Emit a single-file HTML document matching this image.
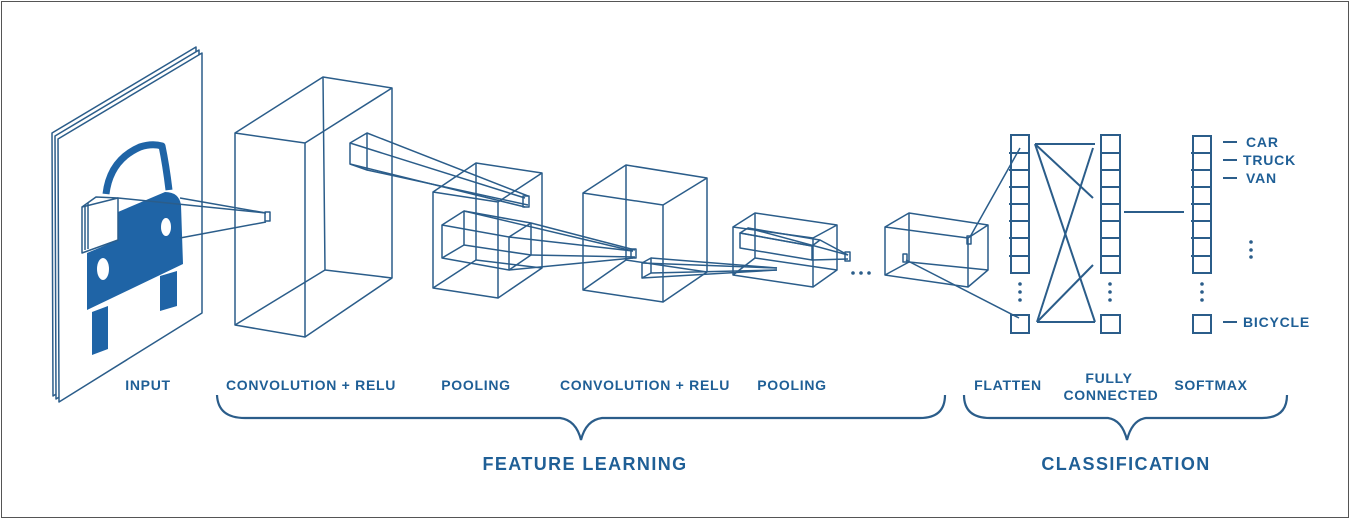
<!DOCTYPE html>
<html><head><meta charset="utf-8"><style>
html,body{margin:0;padding:0;background:#fff}
svg{display:block}
text{font-family:"Liberation Sans",sans-serif;font-weight:bold;fill:#1f5f96}
</style></head><body>
<svg width="1351" height="520" viewBox="0 0 1351 520" xmlns="http://www.w3.org/2000/svg">
<rect x="1.5" y="1.5" width="1347" height="516" fill="#fff" stroke="#555" stroke-width="1"/>
<g fill="#fff" stroke="#2b5d8a" stroke-width="1.5" stroke-linejoin="round">
<polygon points="52,133 196,47 196,307 53,396"/>
<polygon points="55,136 199,50 199,310 56,399"/>
<polygon points="58,139 202,53 202,313 59,402"/>
</g>
<!-- car -->
<path d="M106,194 Q110,160 140,147 Q152,143 162,146 Q166,165 169,190" fill="none" stroke="#1f64a6" stroke-width="7" stroke-linejoin="round"/>
<g fill="#1f64a6">
<path d="M87,253 L118,240 L118,212 L165,192 Q179,192 181,205 L183,264 L87,310 Z"/>
<polygon points="92,312 108,306 108,349 92,355"/>
<polygon points="160,276 177,271 177,306 160,311"/>
</g>
<g fill="#fff"><ellipse cx="166" cy="227" rx="5" ry="9"/><ellipse cx="103" cy="269" rx="6" ry="11"/></g>
<g fill="none" stroke="#2b5d8a" stroke-width="1.5" stroke-linejoin="round">
<polygon points="82,207 118,198 118,240 82,253" fill="#fff"/>
<polyline points="85,205 85,250"/><polyline points="88,203 88,249"/>
<polyline points="82,207 96,197 118,198"/>
<line x1="180" y1="198" x2="266" y2="213"/><line x1="180" y1="238" x2="266" y2="222"/>
<line x1="118" y1="198" x2="266" y2="213"/>
<rect x="265" y="212" width="5" height="9"/>
<polygon points="235,133 305,143 305,337 235,325"/>
<polyline points="235,133 323,77 392,88 392,278 305,337"/>
<polyline points="305,143 392,88"/>
<polyline points="323,77 325,270 392,278"/><line x1="325" y1="270" x2="235" y2="325"/>
<polygon points="350,143 367,133 367,170 350,164"/>
<line x1="350" y1="143" x2="525" y2="198"/><line x1="367" y1="133" x2="528" y2="196"/>
<line x1="350" y1="164" x2="525" y2="207"/><line x1="367" y1="170" x2="528" y2="205"/>
<rect x="523" y="196" width="6" height="11"/>
<polygon points="433,192 498,202 498,298 433,288"/>
<polyline points="433,192 476,163 542,173 542,268 498,298"/>
<line x1="498" y1="202" x2="542" y2="173"/>
<polyline points="476,163 476,260 542,268"/><line x1="476" y1="260" x2="433" y2="288"/>
<polygon points="442,225 509,237 509,270 442,258"/>
<polyline points="442,225 464,211 531,223 531,255 509,270"/>
<line x1="509" y1="237" x2="531" y2="223"/>
<polyline points="464,211 464,245 531,255"/><line x1="464" y1="245" x2="442" y2="258"/>
<line x1="509" y1="237" x2="633" y2="251"/><line x1="531" y1="223" x2="635" y2="250"/>
<line x1="509" y1="270" x2="633" y2="258"/><line x1="531" y1="255" x2="635" y2="257"/>
<line x1="464" y1="211" x2="633" y2="251"/>
<rect x="631" y="249" width="5" height="9"/>
<polygon points="583,193 663,205 663,302 583,290"/>
<polyline points="583,193 626,165 707,178 707,272 663,302"/>
<line x1="663" y1="205" x2="707" y2="178"/>
<polyline points="626,165 626,260 707,272"/><line x1="626" y1="260" x2="583" y2="290"/>
<polygon points="642,263 651,258 651,273 642,278"/>
<line x1="642" y1="263" x2="777" y2="268"/><line x1="651" y1="258" x2="777" y2="268"/>
<line x1="642" y1="278" x2="777" y2="270"/><line x1="651" y1="273" x2="777" y2="270"/>
<polygon points="733,227 813,238 813,287 733,275"/>
<polyline points="733,227 755,213 837,225 837,270 813,287"/>
<line x1="813" y1="238" x2="837" y2="225"/>
<polyline points="755,213 755,258 837,270"/><line x1="755" y1="258" x2="733" y2="275"/>
<polygon points="740,233 748,228 820,240 812,246"/>
<polygon points="740,233 812,246 812,260 740,248"/>
<line x1="820" y1="240" x2="848" y2="255"/><line x1="812" y1="260" x2="848" y2="259"/>
<line x1="748" y1="228" x2="848" y2="255"/>
<rect x="845" y="252" width="5" height="9"/>
<polygon points="885,227 968,238 968,287 885,275"/>
<polyline points="885,227 909,213 988,225 988,270 968,287"/>
<line x1="968" y1="238" x2="988" y2="225"/>
<polyline points="909,213 909,262 988,270"/><line x1="909" y1="262" x2="885" y2="275"/>
<rect x="967" y="236" width="4" height="8"/><rect x="903" y="254" width="4" height="8"/>
<line x1="970" y1="237" x2="1020" y2="148"/><line x1="906" y1="260" x2="1019" y2="318"/>
</g>
<g fill="#2b5d8a"><circle cx="853" cy="273" r="1.8"/><circle cx="861" cy="273" r="1.8"/><circle cx="869" cy="273" r="1.8"/></g>
<g fill="none" stroke="#2b5d8a" stroke-width="2">
<rect x="1011" y="135" width="18" height="138"/>
<rect x="1011" y="315" width="18" height="18"/>
<rect x="1101" y="135" width="19" height="138"/>
<rect x="1101" y="315" width="19" height="18"/>
<rect x="1193" y="136" width="18" height="137"/>
<rect x="1193" y="315" width="18" height="18"/>
<path d="M1009,153H1029M1009,170H1029M1009,187H1029M1009,204H1029M1009,221H1029M1009,238H1029M1009,256H1029"/>
<path d="M1101,153H1120M1101,170H1120M1101,187H1120M1101,204H1120M1101,221H1120M1101,238H1120M1101,256H1120"/>
<path d="M1191,153H1211M1191,170H1211M1191,187H1211M1191,204H1211M1191,221H1211M1191,238H1211M1191,256H1211"/>
<line x1="1035" y1="144" x2="1095" y2="144"/>
<line x1="1035" y1="144" x2="1093" y2="198"/>
<line x1="1035" y1="144" x2="1095" y2="322"/>
<line x1="1037" y1="322" x2="1095" y2="322"/>
<line x1="1037" y1="322" x2="1093" y2="148"/>
<line x1="1037" y1="322" x2="1093" y2="265"/>
<line x1="1124" y1="212" x2="1184" y2="212"/>
<path d="M1223,142H1237M1223,160H1237M1223,178H1237M1223,322H1237"/>
</g>
<g fill="#2b5d8a">
<circle cx="1020" cy="284" r="1.8"/><circle cx="1020" cy="292" r="1.8"/><circle cx="1020" cy="300" r="1.8"/>
<circle cx="1110" cy="284" r="1.8"/><circle cx="1110" cy="292" r="1.8"/><circle cx="1110" cy="300" r="1.8"/>
<circle cx="1202" cy="284" r="1.8"/><circle cx="1202" cy="292" r="1.8"/><circle cx="1202" cy="300" r="1.8"/>
<circle cx="1251" cy="242" r="1.8"/><circle cx="1251" cy="250" r="1.8"/><circle cx="1251" cy="257" r="1.8"/>
</g>
<g font-size="14" letter-spacing="0.8">
<text x="1246" y="147">CAR</text>
<text x="1243" y="165">TRUCK</text>
<text x="1246" y="183">VAN</text>
<text x="1243" y="327">BICYCLE</text>
</g>
<g font-size="14" letter-spacing="0.7" text-anchor="middle">
<text x="148" y="390">INPUT</text>
<text x="311" y="390">CONVOLUTION + RELU</text>
<text x="476" y="390">POOLING</text>
<text x="645" y="390">CONVOLUTION + RELU</text>
<text x="792" y="390">POOLING</text>
<text x="1008" y="390">FLATTEN</text>
<text x="1109" y="383">FULLY</text>
<text x="1111" y="400">CONNECTED</text>
<text x="1211" y="390">SOFTMAX</text>
</g>
<g fill="none" stroke="#2b5d8a" stroke-width="2.2">
<path d="M217,395 Q218,418 245,418 L560,418 Q576,420 581,440 Q586,420 602,418 L920,418 Q945,418 945,395"/>
<path d="M964,395 Q964,418 990,418 L1108,418 Q1122,420 1127,440 Q1132,420 1146,418 L1262,418 Q1287,418 1287,395"/>
</g>
<g font-size="18" letter-spacing="1.4" text-anchor="middle">
<text x="585" y="470">FEATURE LEARNING</text>
<text x="1126" y="470">CLASSIFICATION</text>
</g>
</svg>
</body></html>
